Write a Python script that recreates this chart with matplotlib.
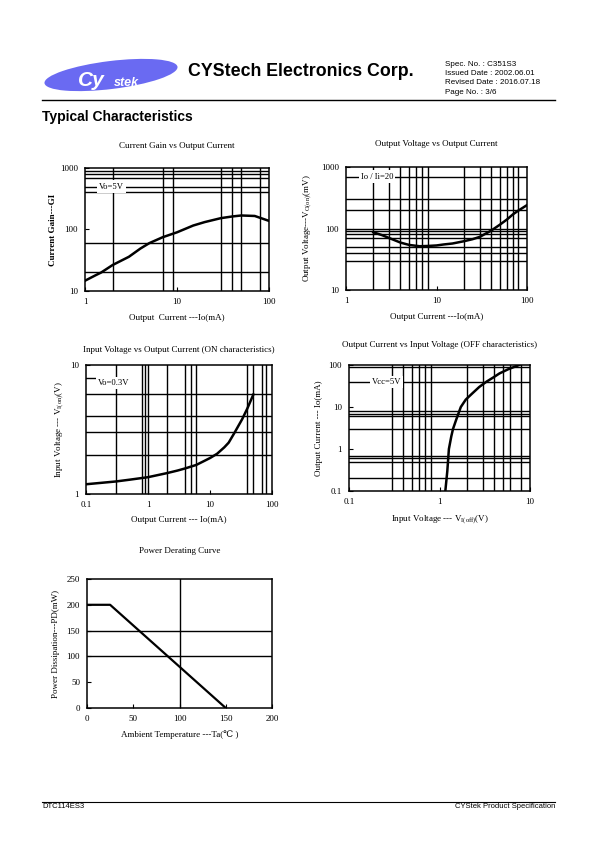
#!/usr/bin/env python3
"""Typical Characteristics page (DTC114ES3) -- curvas tipicas."""
import matplotlib
matplotlib.use("Agg")
import matplotlib.pyplot as plt
from matplotlib.patches import Ellipse
from matplotlib.ticker import NullLocator

W, H = 595, 842

# Current Gain vs Output Current
gain_io = [1, 1.3, 1.5, 2, 3, 4, 5, 7, 10, 15, 20, 30, 40, 50, 70, 100]
gain_hfe = [14.7, 18, 20, 26.5, 36, 49, 60, 75, 90, 116, 132, 153, 163, 169,
            166, 138]
gain_vgrid = [2, 7, 9, 30, 40, 50, 80]
gain_hgrid = [900, 800, 700, 500, 400, 60, 20]

# Output Voltage vs Output Current
vout_io = [2, 2.5, 3, 4, 5, 6.5, 8, 10, 12, 15, 20, 25, 30, 40, 50, 60, 70,
           80, 100]
vout_mv = [87, 78, 70, 59, 54, 51.5, 52, 53, 55, 57, 62, 67, 73, 92, 115, 140,
           170, 195, 240]
vout_vgrid = [2, 3, 4, 5, 6, 7, 8, 20, 30, 40, 50, 60, 70, 80]
vout_hgrid = [700, 300, 200, 100, 90, 80, 70, 50, 40, 30]

# Input Voltage vs Output Current (ON)
von_io = [0.1, 0.3, 0.5, 1, 2, 3, 4, 6, 8, 10, 13, 17, 20, 25, 33, 40, 50]
von_v = [1.19, 1.25, 1.29, 1.35, 1.45, 1.52, 1.58, 1.68, 1.8, 1.9, 2.05, 2.3,
         2.5, 3.0, 3.8, 4.6, 5.9]
von_vgrid = [0.3, 0.8, 0.9, 1, 2, 4, 5, 6, 40, 50, 70, 80]
von_hgrid = [6, 4, 3, 2]

# Output Current vs Input Voltage (OFF)
voff_v = [1.16, 1.22, 1.27, 1.35, 1.41, 1.53, 1.72, 1.95, 2.3, 2.75, 3.3, 3.9,
          4.6, 5.8, 7.6]
voff_io = [0.1, 0.3, 1, 2, 3, 5, 10, 15, 21, 30, 40, 50, 63, 80, 100]
voff_vgrid = [0.3, 0.4, 0.5, 0.6, 0.7, 0.8, 2, 3, 4, 5, 6, 8]
voff_hgrid = [90, 40, 8, 7, 6, 3, 0.7, 0.6, 0.5, 0.2]

# Power Derating Curve
derate_ta = [0, 25, 150]
derate_pd = [200, 200, 0]
derate_vgrid = [100]
derate_hgrid = [100, 150]

SERIF = ["Liberation Serif", "DejaVu Serif", "DejaVu Sans"]
SANS = ["Liberation Sans", "DejaVu Sans"]
plt.rcParams["font.family"] = SERIF
plt.rcParams["font.size"] = 6.5
plt.rcParams["axes.linewidth"] = 1.1
plt.rcParams["xtick.direction"] = "in"
plt.rcParams["ytick.direction"] = "in"
plt.rcParams["xtick.major.size"] = 3
plt.rcParams["ytick.major.size"] = 3

fig = plt.figure(figsize=(W / 100, H / 100), dpi=100)

# capa de pagina en coordenadas de pixel
bg = fig.add_axes([0, 0, 1, 1])
bg.set_xlim(0, W)
bg.set_ylim(H, 0)
bg.axis("off")

bg.add_patch(Ellipse((111, 75), 134, 28, angle=-7, color="#6a6af2", lw=0))
bg.text(78, 86, "Cy", color="white", fontsize=15, fontweight="bold",
        fontstyle="italic", family=SANS, va="baseline")
bg.text(114, 86, "stek", color="white", fontsize=9, fontweight="bold",
        fontstyle="italic", family=SANS, va="baseline")
bg.text(188, 72, "CYStech Electronics Corp.", fontsize=12.8, fontweight="bold",
        family=SANS, va="center")
for i, line in enumerate(["Spec. No. : C351S3", "Issued Date : 2002.06.01",
                          "Revised Date : 2016.07.18", "Page No. : 3/6"]):
    bg.text(445, 64 + i * 9.5, line, fontsize=5.8, family=SANS, va="center")
bg.plot([42, 555], [100, 100], color="black", lw=1)
bg.text(42, 117, "Typical Characteristics", fontsize=10, fontweight="bold",
        family=SANS, va="center")
bg.plot([42, 555], [802, 802], color="black", lw=0.8)
bg.text(42, 807, "DTC114ES3", fontsize=5.5, family=SANS, va="center")
bg.text(555, 807, "CYStek Product Specification", fontsize=5.5, family=SANS,
        va="center", ha="right")


def make_ax(left, top, right, bottom):
    return fig.add_axes([left / W, 1 - bottom / H, (right - left) / W,
                         (bottom - top) / H])


def style(ax, vgrid, hgrid, title, title_y):
    for v in vgrid:
        ax.axvline(v, color="black", lw=1.0, zorder=1)
    for h in hgrid:
        ax.axhline(h, color="black", lw=1.0, zorder=1)
    ax.xaxis.set_minor_locator(NullLocator())
    ax.yaxis.set_minor_locator(NullLocator())
    ax.tick_params(labelsize=6.5, pad=5)
    ax.set_title(title, fontsize=6.5, pad=title_y)


def note(ax, x, y, s):
    ax.text(x, y, s, fontsize=6.2, ha="center", va="center", zorder=3,
            bbox=dict(facecolor="white", edgecolor="none", pad=1.5))


# 1) Current gain
ax = make_ax(85, 168, 269, 291)
ax.set_xscale("log")
ax.set_yscale("log")
ax.set_xlim(1, 100)
ax.set_ylim(10, 1000)
ax.plot(gain_io, gain_hfe, color="black", lw=1.8, zorder=2)
style(ax, gain_vgrid, gain_hgrid, "Current Gain vs Output Current", 14.5)
ax.set_xticks([1, 10, 100], labels=["1", "10", "100"])
ax.set_yticks([10, 100, 1000], labels=["10", "100", "1000"])
ax.set_xlabel("Output  Current ---Io(mA)", fontsize=6.5, labelpad=6)
ax.set_ylabel("Current Gain---GI", fontsize=6.5, fontweight="bold", labelpad=2)
note(ax, 1.95, 500, "Vo=5V")

# 2) Output voltage
ax = make_ax(346, 167, 527, 290)
ax.set_xscale("log")
ax.set_yscale("log")
ax.set_xlim(1, 100)
ax.set_ylim(10, 1000)
ax.plot(vout_io, vout_mv, color="black", lw=1.8, zorder=2)
style(ax, vout_vgrid, vout_hgrid, "Output Voltage vs Output Current", 15)
ax.set_xticks([1, 10, 100], labels=["1", "10", "100"])
ax.set_yticks([10, 100, 1000], labels=["10", "100", "1000"])
ax.set_xlabel("Output Current ---Io(mA)", fontsize=6.5, labelpad=6)
ax.set_ylabel(r"Output Voltage---V$_{\mathregular{O(on)}}$(mV)", fontsize=6.5,
              labelpad=5)
note(ax, 2.2, 700, "Io / Ii=20")

# 3) Input voltage ON
ax = make_ax(86, 365, 272, 494)
ax.set_xscale("log")
ax.set_yscale("log")
ax.set_xlim(0.1, 100)
ax.set_ylim(1, 10)
ax.plot(von_io, von_v, color="black", lw=1.8, zorder=2)
style(ax, von_vgrid, von_hgrid,
      "Input Voltage vs Output Current (ON characteristics)", 9)
ax.axhline(8, xmax=0.2, color="black", lw=1.0, zorder=1)
ax.set_xticks([0.1, 1, 10, 100], labels=["0.1", "1", "10", "100"])
ax.set_yticks([1, 10], labels=["1", "10"])
ax.set_xlabel("Output Current --- Io(mA)", fontsize=6.5, labelpad=5)
ax.set_ylabel(r"Input Voltage --- V$_{\mathregular{I(on)}}$(V)", fontsize=6.5,
              labelpad=3)
note(ax, 0.28, 7.3, "Vo=0.3V")

# 4) Output current OFF
ax = make_ax(349, 365, 530, 491)
ax.set_xscale("log")
ax.set_yscale("log")
ax.set_xlim(0.1, 10)
ax.set_ylim(0.1, 100)
ax.plot(voff_v, voff_io, color="black", lw=1.8, zorder=2)
style(ax, voff_vgrid, voff_hgrid,
      "Output Current vs Input Voltage (OFF characteristics)", 13)
ax.set_xticks([0.1, 1, 10], labels=["0.1", "1", "10"])
ax.set_yticks([0.1, 1, 10, 100], labels=["0.1", "1", "10", "100"])
ax.set_xlabel(r"Input Voltage --- V$_{\mathregular{I(off)}}$(V)", fontsize=6.5,
              labelpad=5)
ax.set_ylabel("Output Current --- Io(mA)", fontsize=6.5, labelpad=4)
note(ax, 0.26, 40, "Vcc=5V")

# 5) Power derating
ax = make_ax(87, 579, 272, 708)
ax.set_xlim(0, 200)
ax.set_ylim(0, 250)
ax.plot(derate_ta, derate_pd, color="black", lw=1.6, zorder=2)
style(ax, derate_vgrid, derate_hgrid, "Power Derating Curve", 19)
ax.set_xticks([0, 50, 100, 150, 200])
ax.set_yticks([0, 50, 100, 150, 200, 250])
ax.set_xlabel("Ambient Temperature ---Ta(\u2103 )", fontsize=6.5, labelpad=5)
ax.set_ylabel("Power Dissipation---PD(mW)", fontsize=6.5, labelpad=5)

fig.savefig("out.png", dpi=100)
